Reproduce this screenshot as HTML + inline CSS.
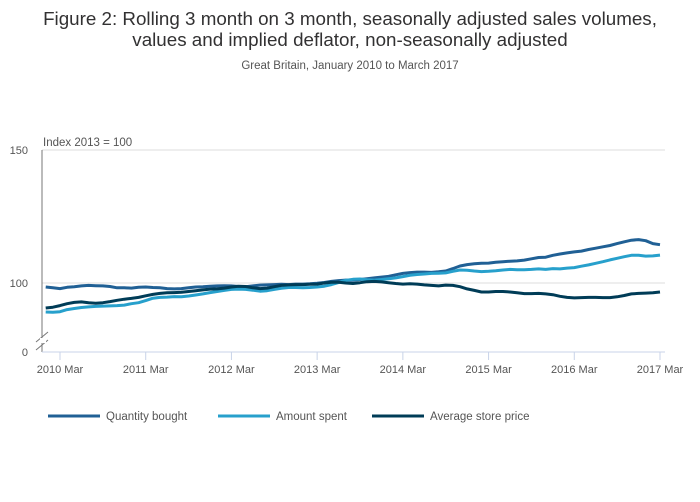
<!DOCTYPE html>
<html><head><meta charset="utf-8"><style>
body{margin:0;background:#fff;font-family:"Liberation Sans",sans-serif}
</style></head><body>
<svg id="c" width="700" height="502" style="display:block">
<text x="350" y="25" text-anchor="middle" font-size="18.8" fill="#323132">Figure 2: Rolling 3 month on 3 month, seasonally adjusted sales volumes,</text>
<text x="350" y="46" text-anchor="middle" font-size="18.8" fill="#323132">values and implied deflator, non-seasonally adjusted</text>
<text x="350" y="69" text-anchor="middle" font-size="11.5" fill="#555">Great Britain, January 2010 to March 2017</text>
<text x="43" y="146" font-size="11.5" fill="#555">Index 2013 = 100</text>
<g id="axes"></g><g id="series"></g><g id="legend"></g>
</svg>
<script>
const tickLabels=["2010 Mar","2011 Mar","2012 Mar","2013 Mar","2014 Mar","2015 Mar","2016 Mar","2017 Mar"];
const yTicks=[100,150];
const seriesNames=["Quantity bought","Amount spent","Average store price"];
const quantity=[98.5,98.2,97.9,98.4,98.6,98.9,99.1,99.0,98.9,98.7,98.2,98.2,
98.1,98.4,98.5,98.3,98.2,97.9,97.8,97.9,98.2,98.5,98.6,98.8,
98.9,99.0,98.9,98.7,98.6,98.9,99.2,99.3,99.4,99.5,99.4,99.6,
99.6,99.7,99.9,100.2,100.6,100.9,101.1,101.0,101.3,101.6,101.9,102.2,
102.5,103.1,103.6,103.9,104.1,104.1,104.0,104.2,104.5,105.4,106.4,106.9,
107.2,107.4,107.5,107.8,108.0,108.2,108.3,108.6,109.1,109.6,109.7,110.4,
110.9,111.3,111.7,112.0,112.6,113.1,113.6,114.1,114.8,115.5,116.1,116.3,
115.9,114.8,114.4];
const amount=[89.1,89.0,89.2,90.0,90.4,90.8,91.0,91.2,91.3,91.4,91.5,91.7,
92.2,92.6,93.4,94.3,94.6,94.7,94.9,94.8,95.1,95.5,95.9,96.4,
96.8,97.2,97.6,97.7,97.6,97.3,96.9,97.1,97.6,98.0,98.3,98.3,
98.2,98.3,98.5,98.8,99.4,100.2,101.0,101.4,101.5,101.2,101.1,101.3,
101.6,101.9,102.4,102.9,103.2,103.4,103.6,103.7,103.8,104.4,104.9,104.8,
104.5,104.3,104.4,104.6,104.9,105.1,105.0,105.0,105.1,105.3,105.1,105.4,
105.3,105.6,105.8,106.3,106.8,107.4,108.0,108.7,109.3,109.9,110.4,110.4,
110.1,110.2,110.5];
const price=[90.6,90.9,91.5,92.2,92.7,92.9,92.6,92.4,92.6,93.0,93.5,93.9,
94.2,94.6,95.2,95.7,96.1,96.3,96.4,96.5,96.8,97.1,97.4,97.7,
97.8,98.1,98.5,98.8,98.7,98.2,97.9,98.1,98.6,99.1,99.3,99.4,
99.4,99.5,99.6,100.0,100.3,100.3,100.0,99.8,100.1,100.5,100.6,100.4,
100.1,99.8,99.6,99.7,99.6,99.3,99.1,98.9,99.2,99.1,98.6,97.8,
97.2,96.6,96.6,96.8,96.8,96.6,96.3,96.0,96.0,96.1,95.9,95.6,
95.0,94.6,94.4,94.5,94.6,94.6,94.5,94.5,94.8,95.3,95.9,96.1,
96.2,96.3,96.6];
const NS="http://www.w3.org/2000/svg";
const X0=42,X1=665,Y0=352;
const xm=i=>60+(i-2)*600/84;
const ys=v=>283-(v-100)*2.66;
function mk(tag,at,parent){const e=document.createElementNS(NS,tag);for(const k in at)e.setAttribute(k,at[k]);parent.appendChild(e);return e;}
const ax=document.getElementById('axes');
yTicks.forEach(v=>{
 const g=mk('line',{x1:X0,x2:X1,y1:ys(v),y2:ys(v),stroke:'#ddd','stroke-width':1},ax);
 
 
 const t=mk('text',{x:28,y:ys(v)+4,'text-anchor':'end','font-size':11,fill:'#555'},ax);t.textContent=v;
 
 
});
const z=mk('text',{x:28,y:Y0+4,'text-anchor':'end','font-size':11,fill:'#555'},ax);z.textContent='0';


const ya=mk('line',{x1:X0,x2:X0,y1:150,y2:Y0,stroke:'#777','stroke-width':1},ax);


const br=mk('path',{d:'M36,342 L48,332 M36,350 L48,340',stroke:'#777','stroke-width':1,fill:'none'},ax);


mk('rect',{x:40,y:338,width:6,height:5,fill:'#fff'},ax);
const xa=mk('line',{x1:X0,x2:X1,y1:Y0,y2:Y0,stroke:'#c8d3e8','stroke-width':1},ax);


tickLabels.forEach((l,k)=>{
 const x=xm(2+12*k);
 mk('line',{x1:x,x2:x,y1:Y0,y2:Y0+8,stroke:'#c8d3e8'},ax);
 const t=mk('text',{x:x,y:Y0+21,'text-anchor':'middle','font-size':11,fill:'#555'},ax);t.textContent=l;
 
 
});
const sg=document.getElementById('series');
const cols=['#206095','#27a0cc','#003c57'];
[quantity,amount,price].forEach((arr,s)=>{
 const d=arr.map((v,i)=>(i?'L':'M')+xm(i).toFixed(1)+','+ys(v).toFixed(1)).join(' ');
 const p=mk('path',{d:d,stroke:cols[s],'stroke-width':3,fill:'none','stroke-linejoin':'round'},sg);
 
 
});
const lg=document.getElementById('legend');
const lx=[48,218,372];
seriesNames.forEach((n,s)=>{
 const l=mk('line',{x1:lx[s],x2:lx[s]+52,y1:416,y2:416,stroke:cols[s],'stroke-width':3},lg);
 
 
 const t=mk('text',{x:lx[s]+58,y:420,'font-size':11.5,fill:'#555'},lg);t.textContent=n;
 
 
});
</script>
</body></html>
